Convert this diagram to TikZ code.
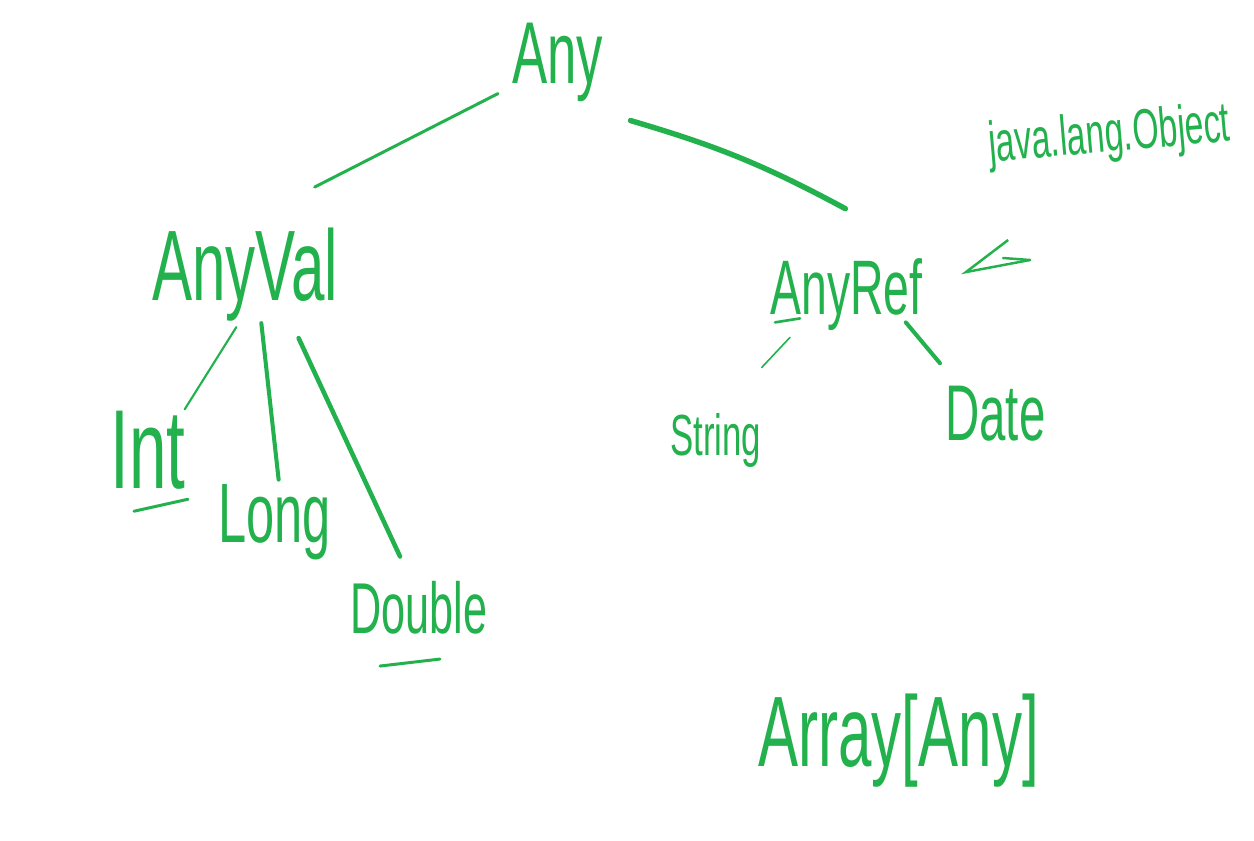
\documentclass[tikz,border=0pt]{standalone}
\usepackage{fontspec}
\newfontfamily\handfont[FakeStretch=0.6]{Liberation Sans}
\usetikzlibrary{calc,arrows.meta}
\definecolor{penGreen}{RGB}{34,177,76}

\begin{document}
\begin{tikzpicture}[x=0.02cm, y=-0.02cm,
    hand/.style={text=penGreen, font=\handfont\fontsize{#1}{#1}\selectfont, inner sep=0pt, anchor=base west},
    pen/.style={draw=penGreen, line cap=round, line join=round, line width=#1},
    pen/.default=1.5pt]
    % Page of the sketch
    \fill[white] (0,0) rectangle (1254,841);
    \useasboundingbox (0,0) rectangle (1254,841);

    % Type names
    \node[hand=50] (any) at (512,84) {Any};
    \node[hand=57] (anyval) at (152,300) {AnyVal};
    \node[hand=44] (anyref) at (770,315) {AnyRef};
    \node[hand=64] (int) at (110,488) {Int};
    \node[hand=48] (long) at (218,542) {Long};
    \node[hand=41] (double) at (350,633) {Double};
    \node[hand=33] (string) at (670,455) {String};
    \node[hand=45] (date) at (945,440) {Date};
    \node[hand=32, rotate=5] (object) at (990,162) {java.lang.Object};
    \node[hand=57] (array) at (758,766) {Array[Any]};

    % Top of the tree
    \draw[pen=1.7pt] ($(any.south west)+(-14,-9)$) -- ($(anyval.north east)+(-24,-40)$);
    \draw[pen=3.1pt] ($(any.south east)+(27,18)$) to[bend left=6] ($(anyref.north)+(-1,-50)$);

    % Value types
    \draw[pen=1.2pt] ($(anyval.south)+(-9,6)$) -- ($(int.north east)+(-1,-1)$);
    \draw[pen=2.3pt] ($(anyval.south)+(16,2)$) -- ($(long.north)+(4,-4)$);
    \draw[pen=2.6pt] ($(anyval.south east)+(-40,17)$) -- ($(double.north west)+(50,-24)$);

    % Reference types
    \draw[pen=0.9pt] ($(anyref.south west)+(20,6)$) -- ($(string.north east)+(0,-45)$);
    \draw[pen=2.3pt] ($(anyref.south east)+(-17,-9)$) -- ($(date.north west)+(-5,-22)$);

    % Underlines
    \draw[pen=1.7pt] ($(int.south west)+(24,22)$) -- ($(int.south west)+(78,10)$);
    \draw[pen=1.7pt] ($(double.south west)+(30,32)$) -- ($(double.south west)+(90,25)$);
    \draw[pen=1.5pt] ($(anyref.south west)+(5,-9)$) -- ($(anyref.south west)+(30,-13)$);

    % java.lang.Object points at AnyRef
    \coordinate (objtail) at (1030,260);
    \draw[pen=1.4pt, -{Straight Barb[harpoon, swap, length=27pt, width=27pt]}]
        (objtail) -- ($(anyref.east)+(38,-22)$);
    \draw[pen=1.4pt] (objtail) -- ++(-27,-2);
\end{tikzpicture}
\end{document}
